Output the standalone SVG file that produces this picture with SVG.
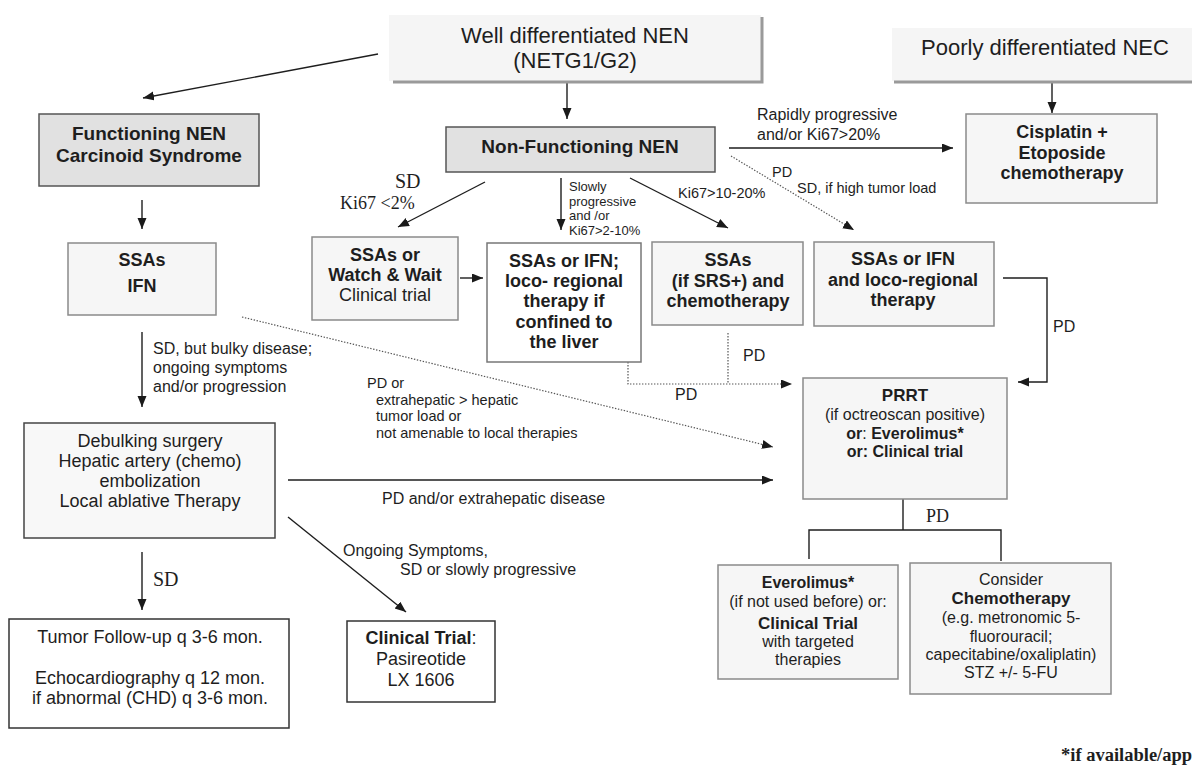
<svg xmlns="http://www.w3.org/2000/svg" width="1192" height="765" viewBox="0 0 1192 765">
<defs>
<marker id="ah" markerUnits="userSpaceOnUse" markerWidth="12" markerHeight="10" refX="11" refY="4.5" orient="auto">
<path d="M0,0 L11,4.5 L0,9 z" fill="#1a1a1a"/>
</marker>
<style>
text{font-family:"Liberation Sans",Arial,sans-serif;fill:#1e1e1e}
.t{text-anchor:middle}
.b{font-weight:bold}
.s18{font-size:18px}
.s16{font-size:16px}
.s14{font-size:14.5px}
.s13{font-size:13px}
.serif{font-family:"Liberation Serif","Times New Roman",serif}
.lt{fill:#f6f6f6;stroke:#8a8a8a;stroke-width:1.5}
.dk{fill:#e1e1e1;stroke:#555;stroke-width:1.5}
.wh{fill:#ffffff;stroke:#333;stroke-width:1.5}
.sh{fill:none;stroke:#9a9a9a;stroke-width:3}
.ln{fill:none;stroke:#1e1e1e;stroke-width:1.4}
.dot{fill:none;stroke:#555;stroke-width:1.2;stroke-dasharray:1.4 1.6}
</style>
</defs>

<g id="connectors">
<line class="ln" x1="378" y1="54" x2="143" y2="98" marker-end="url(#ah)"/>
<line class="ln" x1="567" y1="83" x2="567" y2="119" marker-end="url(#ah)"/>
<line class="ln" x1="1052" y1="83" x2="1052" y2="113" marker-end="url(#ah)"/>
<line class="ln" x1="142" y1="200" x2="142" y2="229" marker-end="url(#ah)"/>
<line class="ln" x1="729" y1="148" x2="953" y2="148" marker-end="url(#ah)"/>
<line class="dot" x1="731" y1="156" x2="854" y2="230" marker-end="url(#ah)"/>
<line class="ln" x1="485" y1="182" x2="398" y2="227" marker-end="url(#ah)"/>
<line class="ln" x1="561" y1="178" x2="561" y2="230" marker-end="url(#ah)"/>
<line class="ln" x1="630" y1="178" x2="728" y2="228" marker-end="url(#ah)"/>
<line class="ln" x1="460" y1="278" x2="483" y2="278" marker-end="url(#ah)"/>
<polyline class="ln" points="1003,278 1047,278 1047,382 1018,382" marker-end="url(#ah)"/>
<polyline class="dot" points="628,362 628,384 792,384" marker-end="url(#ah)"/>
<line class="dot" x1="728" y1="333" x2="728" y2="384"/>
<line class="dot" x1="242" y1="317" x2="773" y2="447" marker-end="url(#ah)"/>
<line class="ln" x1="142" y1="332" x2="142" y2="407" marker-end="url(#ah)"/>
<line class="ln" x1="288" y1="480" x2="773" y2="480" marker-end="url(#ah)"/>
<line class="ln" x1="142" y1="552" x2="142" y2="610" marker-end="url(#ah)"/>
<line class="ln" x1="288" y1="517" x2="406" y2="612" marker-end="url(#ah)"/>
<line class="ln" x1="903" y1="498" x2="903" y2="530"/>
<polyline class="ln" points="809,559 809,530 1001,530 1001,561"/>

<text class="s16" x="757" y="120">Rapidly progressive</text>
<text class="s16" x="757" y="140">and/or Ki67&gt;20%</text>
<text class="s14" x="772" y="177">PD</text>
<text class="s14" x="797" y="193">SD, if high tumor load</text>
<text class="serif" font-size="20" x="395" y="188">SD</text>
<text class="serif" font-size="18" x="340" y="209">Ki67 &lt;2%</text>
<text class="s13" x="569" y="191">Slowly</text>
<text class="s13" x="569" y="206">progressive</text>
<text class="s13" x="569" y="220">and /or</text>
<text class="s13" x="569" y="235">Ki67&gt;2-10%</text>
<text class="s14" x="678" y="198">Ki67&gt;10-20%</text>
<text class="s16" x="153" y="354">SD, but bulky disease;</text>
<text class="s16" x="153" y="373">ongoing symptoms</text>
<text class="s16" x="153" y="392">and/or progression</text>
<text class="s14" x="367" y="388">PD or</text>
<text class="s14" x="376" y="405">extrahepatic &gt; hepatic</text>
<text class="s14" x="376" y="421">tumor load or</text>
<text class="s14" x="376" y="438">not amenable to local therapies</text>
<text class="s16" x="1053" y="332">PD</text>
<text class="s16" x="743" y="361">PD</text>
<text class="s16" x="675" y="400">PD</text>
<text class="s16" x="382" y="504">PD and/or extrahepatic disease</text>
<text class="serif" font-size="20" x="153" y="586">SD</text>
<text class="s16" x="343" y="556">Ongoing Symptoms,</text>
<text class="s16" x="400" y="575">SD or slowly progressive</text>
<text class="serif" font-size="18" x="926" y="522">PD</text>
</g>

<g id="well">
<rect x="389" y="15" width="372" height="66" fill="#f5f5f5"/>
<polyline class="sh" points="393,82 762,82 762,17"/>
<text class="t" font-size="22" x="575" y="43">Well differentiated NEN</text>
<text class="t" font-size="22" x="575" y="68">(NETG1/G2)</text>
</g>

<g id="poorly">
<rect x="892" y="28" width="300" height="53" fill="#f5f5f5"/>
<polyline class="sh" points="894,82 1192,82"/>
<text class="t" font-size="22" x="1045" y="55">Poorly differentiated NEC</text>
</g>

<g id="functioning">
<rect class="dk" x="39" y="114" width="220" height="72"/>
<text class="t b" font-size="19" x="149" y="140">Functioning NEN</text>
<text class="t b" font-size="19" x="149" y="162">Carcinoid Syndrome</text>
</g>

<g id="nonfunctioning">
<rect class="dk" x="446" y="127" width="269" height="45"/>
<text class="t b" font-size="19" x="580" y="153">Non-Functioning NEN</text>
</g>

<g id="cisplatin">
<rect class="lt" x="966" y="114" width="191" height="89"/>
<text class="t b s18" x="1062" y="138">Cisplatin +</text>
<text class="t b s18" x="1062" y="159">Etoposide</text>
<text class="t b s18" x="1062" y="179">chemotherapy</text>
</g>

<g id="ssas-ifn">
<rect class="lt" x="68" y="243" width="148" height="72"/>
<text class="t b s18" x="142" y="266">SSAs</text>
<text class="t b s18" x="142" y="292">IFN</text>
</g>

<g id="watch">
<rect class="lt" x="312" y="237" width="146" height="83"/>
<text class="t b s18" x="385" y="261">SSAs or</text>
<text class="t b s18" x="385" y="281">Watch &amp; Wait</text>
<text class="t s18" x="385" y="301">Clinical trial</text>
</g>

<g id="loco">
<rect x="487" y="243" width="154" height="119" fill="#fff" stroke="#777" stroke-width="1.5"/>
<text class="t b s18" x="564" y="267">SSAs or IFN;</text>
<text class="t b s18" x="564" y="287">loco- regional</text>
<text class="t b s18" x="564" y="307">therapy if</text>
<text class="t b s18" x="564" y="328">confined to</text>
<text class="t b s18" x="564" y="348">the liver</text>
</g>

<g id="srs">
<rect class="lt" x="652" y="242" width="151" height="83"/>
<text class="t b s18" x="728" y="266">SSAs</text>
<text class="t b s18" x="728" y="287">(if SRS+) and</text>
<text class="t b s18" x="728" y="307">chemotherapy</text>
</g>

<g id="ssas-loco">
<rect class="lt" x="814" y="242" width="180" height="84"/>
<text class="t b s18" x="903" y="265">SSAs or IFN</text>
<text class="t b s18" x="903" y="286">and loco-regional</text>
<text class="t b s18" x="903" y="306">therapy</text>
</g>

<g id="prrt">
<rect class="lt" x="803" y="378" width="204" height="121"/>
<text class="t b" font-size="17" x="905" y="401">PRRT</text>
<text class="t s16" x="905" y="420">(if octreoscan positive)</text>
<text class="t b s16" x="905" y="439">or<tspan font-weight="normal">:</tspan> Everolimus*</text>
<text class="t b s16" x="905" y="457">or: Clinical trial</text>
</g>

<g id="debulking">
<rect x="24" y="423" width="251" height="115" fill="#f8f8f8" stroke="#444" stroke-width="1.5"/>
<text class="t s18" x="150" y="447">Debulking surgery</text>
<text class="t s18" x="150" y="467">Hepatic artery (chemo)</text>
<text class="t s18" x="150" y="487">embolization</text>
<text class="t s18" x="150" y="507">Local ablative Therapy</text>
</g>

<g id="followup">
<rect class="wh" x="9" y="619" width="280" height="109"/>
<text class="t s18" x="150" y="643">Tumor Follow-up q 3-6 mon.</text>
<text class="t s18" x="150" y="684">Echocardiography q 12 mon.</text>
<text class="t s18" x="150" y="704">if abnormal (CHD) q 3-6 mon.</text>
</g>

<g id="clinicaltrial">
<rect class="wh" x="347" y="621" width="148" height="81"/>
<text class="t s18" x="421" y="644"><tspan font-weight="bold">Clinical Trial</tspan>:</text>
<text class="t s18" x="421" y="665">Pasireotide</text>
<text class="t s18" x="421" y="686">LX 1606</text>
</g>

<g id="everolimus">
<rect class="lt" x="718" y="565" width="180" height="114"/>
<text class="t b s16" x="808" y="588">Everolimus*</text>
<text class="t s16" x="808" y="607">(if not used before) or:</text>
<text class="t b" font-size="17" x="808" y="629">Clinical Trial</text>
<text class="t s16" x="808" y="647">with targeted</text>
<text class="t s16" x="808" y="665">therapies</text>
</g>

<g id="chemo">
<rect class="lt" x="910" y="563" width="201" height="131"/>
<text class="t s16" x="1011" y="585">Consider</text>
<text class="t b" font-size="17" x="1011" y="604">Chemotherapy</text>
<text class="t s16" x="1011" y="623">(e.g. metronomic 5-</text>
<text class="t s16" x="1011" y="642">fluorouracil;</text>
<text class="t s16" x="1011" y="660">capecitabine/oxaliplatin)</text>
<text class="t s16" x="1011" y="678">STZ +/- 5-FU</text>
</g>

<g id="footnote">
<text class="serif b" font-size="18.5" x="1061" y="761">*if available/app</text>
</g>
</svg>
